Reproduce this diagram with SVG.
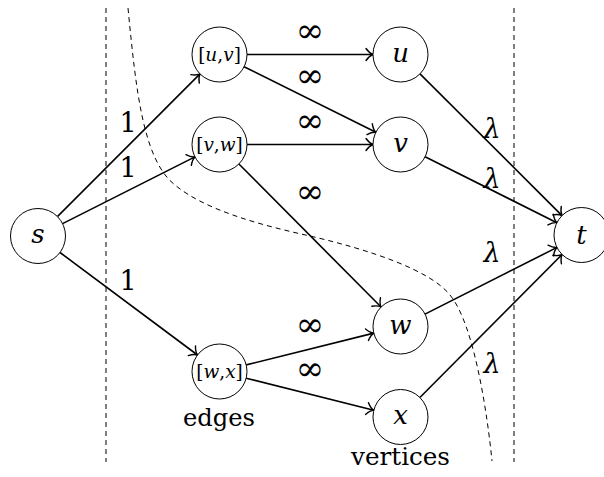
<svg xmlns="http://www.w3.org/2000/svg" width="604" height="477" viewBox="0 0 604 477">
<style>
text{font-family:"DejaVu Serif",serif;fill:#000;text-anchor:middle}
.node{fill:#fff;stroke:#000;stroke-width:1}
.lbl{font-style:italic;font-size:26px}
.elbl{font-size:18.5px}
.it{font-style:italic}
.edge{stroke:#000;stroke-width:1.6;fill:none;marker-end:url(#arr)}
.wt{font-size:27px}
.inf{font-size:34px}
.lam{font-style:italic;font-size:27px}
.cap{font-size:24px}
.cut{stroke:#000;stroke-width:1;fill:none;stroke-dasharray:5 4}
</style>
<defs>
<marker id="arr" markerUnits="userSpaceOnUse" markerWidth="16" markerHeight="16" refX="0" refY="0" viewBox="-9 -8 11 16" orient="auto" overflow="visible">
<path d="M-7,-6 C-4.5,-2.5 -1.8,-0.6 0,0 C-1.8,0.6 -4.5,2.5 -7,6" fill="none" stroke="#000" stroke-width="1.4" stroke-linecap="round"/>
</marker>
</defs>
<g id="cuts">
<line class="cut" x1="106" y1="8" x2="106" y2="462"/>
<line class="cut" x1="514" y1="8" x2="514" y2="462"/>
<path class="cut" stroke-width="0.9" d="M128,8 C136,90 143,160 175,185 C205,210 260,225 310,236 C370,250 430,270 450,295 C475,325 488,420 492,461"/>
</g>
<g id="connectors">
<line class="edge" x1="57.4" y1="216.6" x2="200" y2="73.9"/>
<line class="edge" x1="62.6" y1="223.6" x2="194.9" y2="156.9"/>
<line class="edge" x1="60" y1="252.5" x2="197.5" y2="355"/>
<line class="edge" x1="247" y1="54.5" x2="373" y2="54.5"/>
<line class="edge" x1="244.1" y1="66.7" x2="375.9" y2="132.3"/>
<line class="edge" x1="247" y1="144.5" x2="373" y2="144.5"/>
<line class="edge" x1="238.9" y1="164" x2="381.1" y2="307"/>
<line class="edge" x1="246.2" y1="364.9" x2="373.8" y2="333.1"/>
<line class="edge" x1="246.2" y1="378.2" x2="373.8" y2="410.3"/>
<line class="edge" x1="420" y1="73.9" x2="562" y2="215.6"/>
<line class="edge" x1="425.1" y1="156.8" x2="556.9" y2="222.7"/>
<line class="edge" x1="425" y1="314.1" x2="557" y2="247.4"/>
<line class="edge" x1="419.9" y1="397.5" x2="562.1" y2="254.5"/>
<text class="wt" x="128" y="132">1</text>
<text class="wt" x="128" y="177">1</text>
<text class="wt" x="128" y="290">1</text>
<text class="inf" x="310" y="42">∞</text>
<text class="inf" x="310" y="87">∞</text>
<text class="inf" x="310" y="132">∞</text>
<text class="inf" x="310" y="203">∞</text>
<text class="inf" x="310" y="336">∞</text>
<text class="inf" x="310" y="380">∞</text>
<text class="lam" x="492" y="138">λ</text>
<text class="lam" x="492" y="188">λ</text>
<text class="lam" x="492" y="262">λ</text>
<text class="lam" x="492" y="373">λ</text>
</g>
<g id="node-s"><circle class="node" cx="38" cy="236" r="27.5"/><text class="lbl" x="38" y="243">s</text></g>
<g id="node-uv"><circle class="node" cx="219.5" cy="54.5" r="27.5"/><text class="elbl" x="219.5" y="60.5">[<tspan class="it">u</tspan>,<tspan class="it">v</tspan>]</text></g>
<g id="node-vw"><circle class="node" cx="219.5" cy="144.5" r="27.5"/><text class="elbl" x="219.5" y="150.5">[<tspan class="it">v</tspan>,<tspan class="it">w</tspan>]</text></g>
<g id="node-wx"><circle class="node" cx="219.5" cy="371.5" r="27.5"/><text class="elbl" x="219.5" y="377.5">[<tspan class="it">w</tspan>,<tspan class="it">x</tspan>]</text></g>
<g id="node-u"><circle class="node" cx="400.5" cy="54.5" r="27.5"/><text class="lbl" x="400.5" y="61.5">u</text></g>
<g id="node-v"><circle class="node" cx="400.5" cy="144.5" r="27.5"/><text class="lbl" x="400.5" y="151.5">v</text></g>
<g id="node-w"><circle class="node" cx="400.5" cy="326.5" r="27.5"/><text class="lbl" x="400.5" y="333.5">w</text></g>
<g id="node-x"><circle class="node" cx="400.5" cy="417" r="27.5"/><text class="lbl" x="400.5" y="424">x</text></g>
<g id="node-t"><circle class="node" cx="581.5" cy="235" r="27.5"/><text class="lbl" x="581.5" y="244">t</text></g>
<g id="captions">
<text class="cap" x="219" y="425.5" textLength="72" lengthAdjust="spacingAndGlyphs">edges</text>
<text class="cap" x="400.5" y="465" textLength="99" lengthAdjust="spacingAndGlyphs">vertices</text>
</g>
</svg>
